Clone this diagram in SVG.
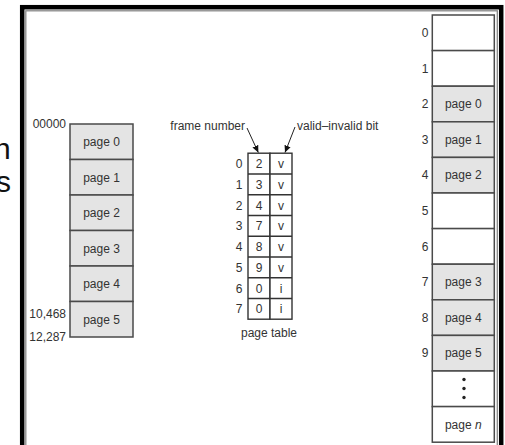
<svg xmlns="http://www.w3.org/2000/svg" width="505" height="445" viewBox="0 0 505 445">
<defs>
<style>
text{font-family:"Liberation Sans",Arial,sans-serif;font-size:12px;fill:#333}
.c{text-anchor:middle}
.e{text-anchor:end}
.g{fill:#e4e4e4;stroke:#4a4a4a;stroke-width:1.5}
.w{fill:#fff;stroke:#4a4a4a;stroke-width:1.5}
.big{font-size:30px;fill:#111}
.cell{fill:#fff;stroke:#333;stroke-width:1.4}
</style>
<marker id="ah" markerWidth="8" markerHeight="8" refX="7" refY="4" orient="auto" markerUnits="userSpaceOnUse">
<path d="M0,0.8 L7,4 L0,7.2 Z" fill="#111"/>
</marker>
</defs>
<rect width="505" height="445" fill="#fff"/>
<text class="big" x="-6" y="159">n</text>
<text class="big" x="-4" y="192">s</text>
<rect x="22.2" y="7.2" width="479" height="450" fill="none" stroke="#000" stroke-width="4.5"/>
<rect x="25.8" y="10.8" width="471.5" height="445" fill="none" stroke="#888" stroke-width="1.3"/>

<g id="logical-memory">
<rect class="g" x="70" y="124" width="63" height="35.5"/>
<rect class="g" x="70" y="159.5" width="63" height="35.5"/>
<rect class="g" x="70" y="195" width="63" height="35.5"/>
<rect class="g" x="70" y="230.5" width="63" height="35.5"/>
<rect class="g" x="70" y="266" width="63" height="35.5"/>
<rect class="g" x="70" y="301.5" width="63" height="35.5"/>
<text class="c" x="101.5" y="146">page 0</text>
<text class="c" x="101.5" y="181.5">page 1</text>
<text class="c" x="101.5" y="217">page 2</text>
<text class="c" x="101.5" y="252.5">page 3</text>
<text class="c" x="101.5" y="288">page 4</text>
<text class="c" x="101.5" y="323.5">page 5</text>
<text class="e" x="66" y="128">00000</text>
<text class="e" x="66" y="318">10,468</text>
<text class="e" x="66" y="341">12,287</text>
</g>

<g id="page-table">
<rect class="cell" x="248" y="153.2" width="22" height="166"/>
<rect class="cell" x="270" y="153.2" width="22" height="166"/>
<path d="M248,174 H292 M248,194.7 H292 M248,215.5 H292 M248,236.2 H292 M248,257 H292 M248,277.7 H292 M248,298.5 H292" stroke="#333" stroke-width="1.4"/>
<g class="c">
<text class="c" x="239" y="168">0</text><text class="c" x="259" y="168">2</text><text class="c" x="281" y="168">v</text>
<text class="c" x="239" y="188.7">1</text><text class="c" x="259" y="188.7">3</text><text class="c" x="281" y="188.7">v</text>
<text class="c" x="239" y="209.5">2</text><text class="c" x="259" y="209.5">4</text><text class="c" x="281" y="209.5">v</text>
<text class="c" x="239" y="230.2">3</text><text class="c" x="259" y="230.2">7</text><text class="c" x="281" y="230.2">v</text>
<text class="c" x="239" y="251">4</text><text class="c" x="259" y="251">8</text><text class="c" x="281" y="251">v</text>
<text class="c" x="239" y="271.7">5</text><text class="c" x="259" y="271.7">9</text><text class="c" x="281" y="271.7">v</text>
<text class="c" x="239" y="292.5">6</text><text class="c" x="259" y="292.5">0</text><text class="c" x="281" y="292.5">i</text>
<text class="c" x="239" y="313.2">7</text><text class="c" x="259" y="313.2">0</text><text class="c" x="281" y="313.2">i</text>
</g>
<text class="c" x="269" y="337">page table</text>
<text class="e" x="245" y="130">frame number</text>
<text x="297" y="130">valid–invalid bit</text>
</g>

<g id="connectors">
<line x1="247" y1="128" x2="258.3" y2="152.5" stroke="#222" stroke-width="1" marker-end="url(#ah)"/>
<line x1="295" y1="127" x2="285" y2="152.5" stroke="#222" stroke-width="1" marker-end="url(#ah)"/>
</g>

<g id="physical-memory">
<rect class="w" x="432.3" y="15" width="62" height="35.6"/>
<rect class="w" x="432.3" y="50.6" width="62" height="35.6"/>
<rect class="g" x="432.3" y="86.2" width="62" height="35.6"/>
<rect class="g" x="432.3" y="121.8" width="62" height="35.6"/>
<rect class="g" x="432.3" y="157.4" width="62" height="35.6"/>
<rect class="w" x="432.3" y="193" width="62" height="35.6"/>
<rect class="w" x="432.3" y="228.6" width="62" height="35.6"/>
<rect class="g" x="432.3" y="264.2" width="62" height="35.6"/>
<rect class="g" x="432.3" y="299.8" width="62" height="35.6"/>
<rect class="g" x="432.3" y="335.4" width="62" height="35.6"/>
<rect class="w" x="432.3" y="371" width="62" height="35.6"/>
<rect class="w" x="432.3" y="406.6" width="62" height="35.6"/>
<text class="c" x="425" y="37">0</text>
<text class="c" x="425" y="72.6">1</text>
<text class="c" x="425" y="108.2">2</text>
<text class="c" x="425" y="143.8">3</text>
<text class="c" x="425" y="179.4">4</text>
<text class="c" x="425" y="215">5</text>
<text class="c" x="425" y="250.6">6</text>
<text class="c" x="425" y="286.2">7</text>
<text class="c" x="425" y="321.8">8</text>
<text class="c" x="425" y="357.4">9</text>
<text class="c" x="463.3" y="108.2">page 0</text>
<text class="c" x="463.3" y="143.8">page 1</text>
<text class="c" x="463.3" y="179.4">page 2</text>
<text class="c" x="463.3" y="286.2">page 3</text>
<text class="c" x="463.3" y="321.8">page 4</text>
<text class="c" x="463.3" y="357.4">page 5</text>
<circle cx="464" cy="379.5" r="1.7" fill="#222"/>
<circle cx="464" cy="388.5" r="1.7" fill="#222"/>
<circle cx="464" cy="397.5" r="1.7" fill="#222"/>
<text class="c" x="463.3" y="428.6">page <tspan font-style="italic">n</tspan></text>
</g>
</svg>
